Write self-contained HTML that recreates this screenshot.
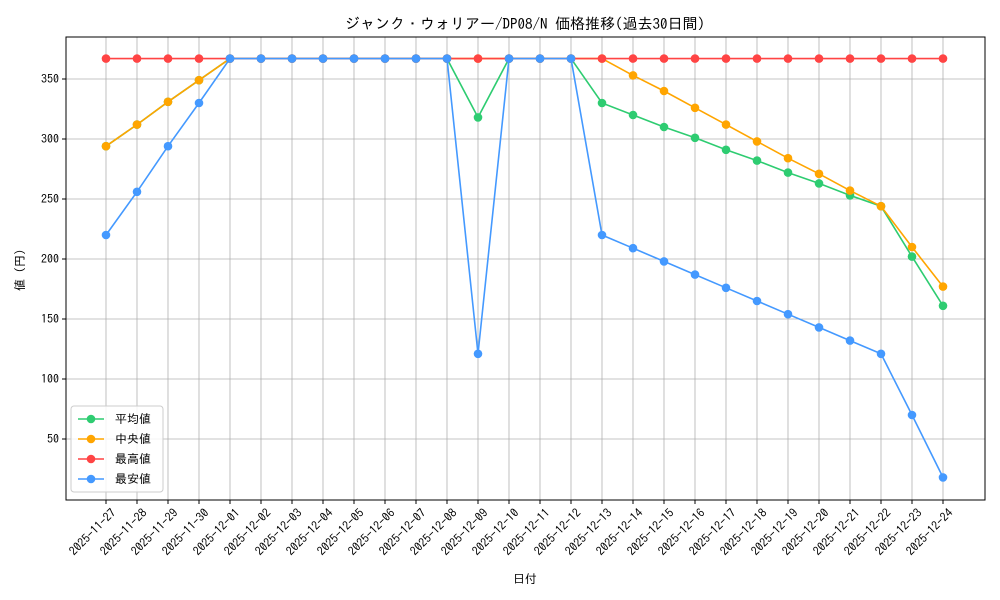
<!DOCTYPE html>
<html><head><meta charset="utf-8"><style>body{margin:0;background:#fff}svg{display:block;font-family:"IPAGothic","Noto Sans CJK JP",sans-serif}</style></head><body>
<svg id="s" width="1000" height="600" xmlns="http://www.w3.org/2000/svg"></svg>
<script>
const s=document.getElementById('s');let h='';
const L=66,R=985,T=37,B=500;
const X=i=>106+i*31;const Y=v=>79+(350-v)*1.2;
const dates=[];for(let d=27;d<=30;d++)dates.push('2025-11-'+d);for(let d=1;d<=24;d++)dates.push('2025-12-'+String(d).padStart(2,'0'));
for(let v=50;v<=350;v+=50){const y=Y(v);h+=`<line x1="${L}" x2="${R}" y1="${y}" y2="${y}" stroke="#b0b0b0" stroke-width="0.8"/><line x1="${L-4}" x2="${L}" y1="${y}" y2="${y}" stroke="#000"/><text x="${L-7}" y="${y+4}" font-size="12" text-anchor="end">${v}</text>`;}
dates.forEach((d,i)=>{const x=X(i);h+=`<line x1="${x}" x2="${x}" y1="${T}" y2="${B}" stroke="#b0b0b0" stroke-width="0.8"/><line x1="${x}" x2="${x}" y1="${B}" y2="${B+4}" stroke="#000"/><text transform="translate(${x+5},${B+8}) rotate(-45)" font-size="12" text-anchor="end" dominant-baseline="hanging">${d}</text>`;});
h+=`<rect x="${L}" y="${T}" width="${R-L}" height="${B-T}" fill="none" stroke="#000" stroke-width="1"/>`;
const m=367;
const green=[294,312,331,349,m,m,m,m,m,m,m,m,m,318,m,m,m,330,320,310,301,291,282,272,263,253,244,202,161];
green.splice(12,1);
const orange=[294,312,331,349,m,m,m,m,m,m,m,m,m,m,m,m,m,353,340,326,312,298,284,271,257,244,210,177];
const red=Array(28).fill(m);
const blue=[220,256,294,330,m,m,m,m,m,m,m,m,m,121,m,m,m,220,209,198,187,176,165,154,143,132,121,70,18];
blue.splice(12,1);
const ser=[[green,'#2ecc71'],[orange,'#ffa500'],[red,'#ff4444'],[blue,'#4499ff']];
ser.forEach(([d,c])=>{h+=`<polyline fill="none" stroke="${c}" stroke-width="1.6" points="${d.map((v,i)=>X(i)+','+Y(v)).join(' ')}"/>`;d.forEach((v,i)=>h+=`<circle cx="${X(i)}" cy="${Y(v)}" r="4.3" fill="${c}"/>`);});
h+=`<text x="525" y="29" font-size="15" text-anchor="middle">ジャンク・ウォリアー/DP08/N 価格推移(過去30日間)</text>`;
h+=`<text x="525" y="583" font-size="12" text-anchor="middle">日付</text>`;
h+=`<text transform="translate(24,270) rotate(-90)" font-size="12" text-anchor="middle">値 (円)</text>`;
h+=`<rect x="71" y="406" width="92" height="86" fill="#fff" fill-opacity="0.85" stroke="#ccc" rx="3"/>`;
['平均値','中央値','最高値','最安値'].forEach((t,i)=>{const y=419+i*20,c=ser[i][1];h+=`<line x1="78" x2="104" y1="${y}" y2="${y}" stroke="${c}" stroke-width="1.6"/><circle cx="91" cy="${y}" r="4.3" fill="${c}"/><text x="115" y="${y+4}" font-size="12">${t}</text>`;});
s.innerHTML=h;
</script>
</body></html>
